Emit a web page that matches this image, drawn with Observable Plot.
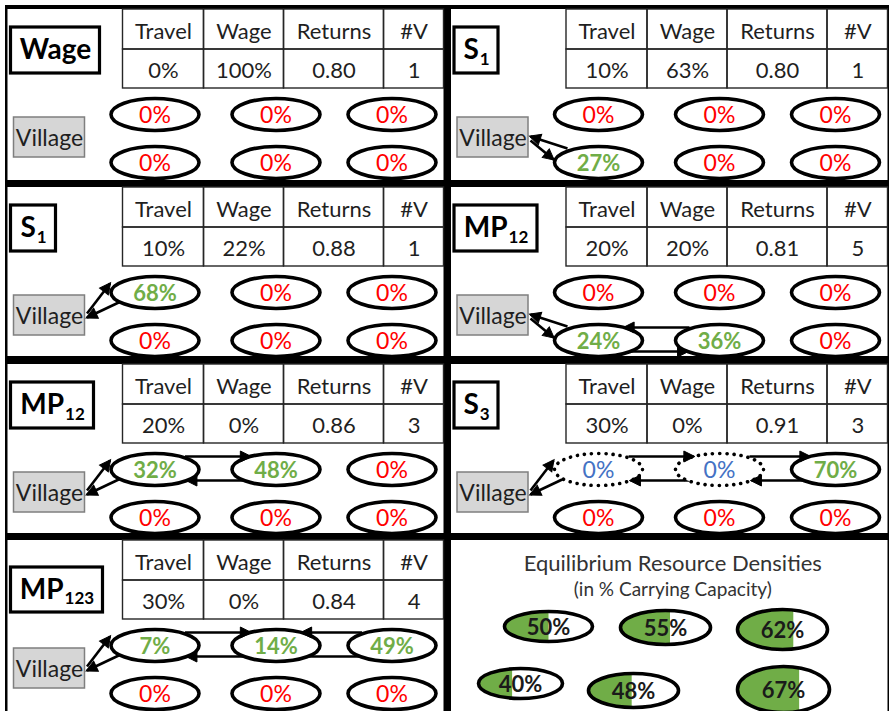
<!DOCTYPE html>
<html><head><meta charset="utf-8">
<script src="https://cdn.jsdelivr.net/npm/d3@7"></script>
<script src="https://cdn.jsdelivr.net/npm/@observablehq/plot@0.6"></script>
<style>body{margin:0;background:#fff}</style>
</head><body><div id="chart"></div>
<script>
// ---------------- data ----------------
const panelTitles = ["Wage", "S", "S", "MP", "MP", "S", "MP"];
const panelSubs   = ["", "1", "1", "12", "12", "3", "123"];
const headers     = ["Travel", "Wage", "Returns", "#V"];
const travel      = ["0%", "10%", "10%", "20%", "20%", "30%", "30%"];
const wage        = ["100%", "63%", "22%", "20%", "0%", "0%", "0%"];
const returns     = ["0.80", "0.80", "0.88", "0.81", "0.86", "0.91", "0.84"];
const numV        = ["1", "1", "1", "5", "3", "3", "4"];
// patch densities per panel: top row (3) then bottom row (3)
const densities = [
  [0, 0, 0, 0, 0, 0],
  [0, 0, 0, 27, 0, 0],
  [68, 0, 0, 0, 0, 0],
  [0, 0, 0, 24, 36, 0],
  [32, 48, 0, 0, 0, 0],
  [0, 0, 70, 0, 0, 0],
  [7, 14, 49, 0, 0, 0]
];
// patches only passed through (dotted)
const passedThrough = [[], [], [], [], [], [0, 1], []];
// travel routes: [panel, from, to, lane]  ("V" = village)
const routes = [
  [1, "V", 3], [1, 3, "V"],
  [2, "V", 0], [2, 0, "V"],
  [3, "V", 3], [3, 3, "V"], [3, 4, 3, "top"], [3, 3, 4, "bot"],
  [4, "V", 0], [4, 0, "V"], [4, 0, 1, "top"], [4, 1, 0, "bot"],
  [5, "V", 0], [5, 0, "V"], [5, 0, 1, "top"], [5, 1, 2, "top"], [5, 2, 1, "bot"], [5, 1, 0, "bot"],
  [6, "V", 0], [6, 0, "V"], [6, 0, 1, "top"], [6, 2, 1, "top"], [6, 2, 0, "bot"]
];
const legendTitle = "Equilibrium Resource Densities";
const legendSubtitle = "(in % Carrying Capacity)";
const legendValues = [50, 55, 62, 40, 48, 67];

// ---------------- layout ----------------
const colX = [7.5, 451], colRight = [443.5, 887.5];
const rowTop = [9, 187, 364, 540], rowBottom = [180, 356, 533, 711];
const tableX = [115, 196, 276, 376], tableY = [0, 40, 79];
const headY = 22, valY = 61;
const titleBoxW = [89, 44, 45, 83, 83, 44, 92];
const titleBoxY = [[18, 64], [18, 64], [18, 64], [18, 64], [18, 64], [18, 64], [27, 72]];
const ellX = [147, 268, 384], ellY = [105, 153];
const RX = 44, RY = 16;
const vil = {x1: 6, x2: 77, y1: 108, y2: 148};
const legendPos = [[548, 626, 44, 15], [665, 627, 45, 17], [782, 629, 45, 20],
                   [520, 683, 42, 15], [633, 690, 45, 17], [783, 689, 46, 23]];
const GREEN = "#70ad47", RED = "#ff0000", BLUE = "#4472c4";
const FONT = "Lato";

const P = panelTitles.map((t, i) => ({
  i, ox: colX[i % 2], oy: rowTop[Math.floor(i / 2)],
  right: colRight[i % 2], bottom: rowBottom[Math.floor(i / 2)]
}));

// symbols
function ellipseSymbol(rx, ry) {
  const k = 0.5523;
  return {draw(c) {
    c.moveTo(rx, 0);
    c.bezierCurveTo(rx, k * ry, k * rx, ry, 0, ry);
    c.bezierCurveTo(-k * rx, ry, -rx, k * ry, -rx, 0);
    c.bezierCurveTo(-rx, -k * ry, -k * rx, -ry, 0, -ry);
    c.bezierCurveTo(k * rx, -ry, rx, -k * ry, rx, 0);
    c.closePath();
  }};
}
function partialSymbol(rx, ry, f) {
  return {draw(c) {
    const x0 = -rx + 2 * rx * f;
    const t0 = Math.acos(Math.max(-1, Math.min(1, x0 / rx)));
    const n = 64;
    for (let j = 0; j <= n; j++) {
      const t = t0 + (2 * Math.PI - 2 * t0) * j / n;
      const x = rx * Math.cos(t), y = ry * Math.sin(t);
      j ? c.lineTo(x, y) : c.moveTo(x, y);
    }
    c.closePath();
  }};
}
const headSymbol = {draw(c) { c.moveTo(1, 0); c.lineTo(-10, -5.5); c.lineTo(-10, 5.5); c.closePath(); }};

// measure text widths for subscript titles
const mctx = document.createElement("canvas").getContext("2d");
function tw(s, font) { mctx.font = font; return mctx.measureText(s).width; }

// ---------------- derived rows ----------------
const panelRects = P.map(p => ({x1: p.ox, x2: p.right, y1: p.oy, y2: p.bottom}));
panelRects.push({x1: colX[1], x2: colRight[1], y1: rowTop[3], y2: rowBottom[3]});

const cells = [], cellText = [];
P.forEach(p => {
  const vals = [travel[p.i], wage[p.i], returns[p.i], numV[p.i]];
  for (let c = 0; c < 4; c++) {
    const x1 = p.ox + tableX[c], x2 = c < 3 ? p.ox + tableX[c + 1] : p.right;
    for (let r = 0; r < 2; r++) cells.push({x1, x2, y1: p.oy + tableY[r], y2: p.oy + tableY[r + 1]});
    cellText.push({x: (x1 + x2) / 2, y: p.oy + headY, t: headers[c]});
    cellText.push({x: (x1 + x2) / 2, y: p.oy + valY, t: vals[c]});
  }
});

const titleBoxes = P.map(p => ({x1: p.ox + 3, x2: p.ox + 3 + titleBoxW[p.i],
  y1: p.oy + titleBoxY[p.i][0], y2: p.oy + titleBoxY[p.i][1]}));
const titleMain = [], titleSub = [];
P.forEach((p, i) => {
  const b = titleBoxes[i];
  const cx = (b.x1 + b.x2) / 2, cy = (b.y1 + b.y2) / 2;
  const wm = tw(panelTitles[i], `bold 28px ${FONT}`);
  const ws = panelSubs[i] ? tw(panelSubs[i], `bold 17px ${FONT}`) + 1 : 0;
  const x0 = cx - (wm + ws) / 2;
  titleMain.push({x: x0, y: cy, t: panelTitles[i]});
  if (panelSubs[i]) titleSub.push({x: x0 + wm + 1, y: cy + 9, t: panelSubs[i]});
});

const villages = P.map(p => ({x1: p.ox + vil.x1, x2: p.ox + vil.x2, y1: p.oy + vil.y1, y2: p.oy + vil.y2,
  x: p.ox + (vil.x1 + vil.x2) / 2, y: p.oy + (vil.y1 + vil.y2) / 2 + 1}));

const patches = [];
P.forEach(p => densities[p.i].forEach((v, j) => {
  const dotted = passedThrough[p.i].includes(j);
  patches.push({x: p.ox + ellX[j % 3], y: p.oy + ellY[Math.floor(j / 3)], v, dotted,
    label: v + "%", color: v > 0 ? GREEN : dotted ? BLUE : RED});
}));

function edgeX(cx, dy, side) { return cx + side * RX * Math.sqrt(Math.max(0, 1 - (dy / RY) ** 2)); }
const links = routes.map(([pi, from, to, lane]) => {
  const p = P[pi];
  let s;
  if (from === "V" || to === "V") {
    const patch = from === "V" ? to : from;
    const bottom = patch >= 3;
    if (from === "V") s = bottom ? [79, 131, 102, 150] : [79, 126, 102, 96];
    else s = bottom ? [116, 139, 79, 127] : [117, 112, 79, 130];
  } else {
    const row = Math.floor(from / 3), a = from % 3, b = to % 3;
    const dy = lane === "top" ? -13 : 11;
    const y = ellY[row] + dy;
    const right = b > a;
    const xa = right ? ellX[a] + 30 : ellX[a] - 30;
    const xb = edgeX(ellX[b], dy, right ? -1 : 1);
    s = [xa, y, xb, y];
  }
  const [x1, y1, x2, y2] = [s[0] + p.ox, s[1] + p.oy, s[2] + p.ox, s[3] + p.oy];
  return {x1, y1, x2, y2, angle: Math.atan2(y2 - y1, x2 - x1) * 180 / Math.PI};
});

const legendRows = legendValues.map((v, k) => ({x: legendPos[k][0], y: legendPos[k][1],
  rx: legendPos[k][2], ry: legendPos[k][3], v, label: v + "%"}));
const lx = (colX[1] + colRight[1]) / 2 + 3;

// ---------------- plot ----------------
const marks = [
  Plot.rect([{x1: 5, x2: 889, y1: 5, y2: 711}], {x1: "x1", x2: "x2", y1: "y1", y2: "y2", fill: "black"}),
  Plot.rect(panelRects, {x1: "x1", x2: "x2", y1: "y1", y2: "y2", fill: "white"}),
  Plot.rect(cells, {x1: "x1", x2: "x2", y1: "y1", y2: "y2", fill: "none", stroke: "#262626", strokeWidth: 1.4}),
  Plot.rect(titleBoxes, {x1: "x1", x2: "x2", y1: "y1", y2: "y2", fill: "white", stroke: "black", strokeWidth: 3.2}),
  Plot.text(titleMain, {x: "x", y: "y", text: "t", fontSize: 28, fontWeight: "bold", textAnchor: "start", fill: "black"}),
  Plot.text(titleSub, {x: "x", y: "y", text: "t", fontSize: 17, fontWeight: "bold", textAnchor: "start", fill: "black"}),
  Plot.text(cellText, {x: "x", y: "y", text: "t", fontSize: 22, fill: "#1f1f1f"}),
  Plot.rect(villages, {x1: "x1", x2: "x2", y1: "y1", y2: "y2", fill: "#d6d6d6", stroke: "#7f7f7f", strokeWidth: 1.5}),
  Plot.text(villages, {x: "x", y: "y", text: () => "Village", fontSize: 23, fill: "#1f1f1f"}),
  Plot.link(links, {x1: "x1", y1: "y1", x2: "x2", y2: "y2", stroke: "black", strokeWidth: 2.6}),
  Plot.dot(patches.filter(d => !d.dotted), {x: "x", y: "y", symbol: ellipseSymbol(RX, RY), fill: "white", stroke: "black", strokeWidth: 3.6}),
  Plot.dot(patches.filter(d => d.dotted), {x: "x", y: "y", symbol: ellipseSymbol(RX, RY), fill: "white", stroke: "black", strokeWidth: 3.6, strokeDasharray: "0.1,7", strokeLinecap: "round"}),
  Plot.dot(links, {x: "x2", y: "y2", rotate: "angle", symbol: headSymbol, fill: "black", stroke: "black", strokeWidth: 1}),
  Plot.text(patches.filter(d => d.v > 0), {x: "x", y: d => d.y + 1, text: "label", fontSize: 22, fontWeight: "bold", fill: "color"}),
  Plot.text(patches.filter(d => !(d.v > 0)), {x: "x", y: d => d.y + 1, text: "label", fontSize: 23, fill: "color"}),
  Plot.text([legendTitle], {x: lx, y: 563, text: d => d, fontSize: 22, fill: "#333"}),
  Plot.text([legendSubtitle], {x: lx, y: 589, text: d => d, fontSize: 19, fill: "#333"})
];
legendRows.forEach(d => {
  marks.push(Plot.dot([d], {x: "x", y: "y", symbol: ellipseSymbol(d.rx, d.ry), fill: "white", stroke: "none"}));
  marks.push(Plot.dot([d], {x: "x", y: "y", symbol: partialSymbol(d.rx, d.ry, d.v / 100), fill: GREEN, stroke: "none"}));
  marks.push(Plot.dot([d], {x: "x", y: "y", symbol: ellipseSymbol(d.rx, d.ry), fill: "none", stroke: "black", strokeWidth: 3.6}));
});
marks.push(Plot.text(legendRows, {x: "x", y: d => d.y + 1, text: "label", fontSize: 22, fontWeight: "bold", fill: "#1a1a1a"}));

const chart = Plot.plot({
  width: 889, height: 711, margin: 0,
  x: {domain: [0, 889], range: [0, 889], axis: null},
  y: {domain: [0, 711], range: [0, 711], axis: null},
  color: {type: "identity"},
  style: {fontFamily: `${FONT}, sans-serif`, background: "white", overflow: "visible"},
  marks
});
document.getElementById("chart").append(chart);
</script>
</body></html>
